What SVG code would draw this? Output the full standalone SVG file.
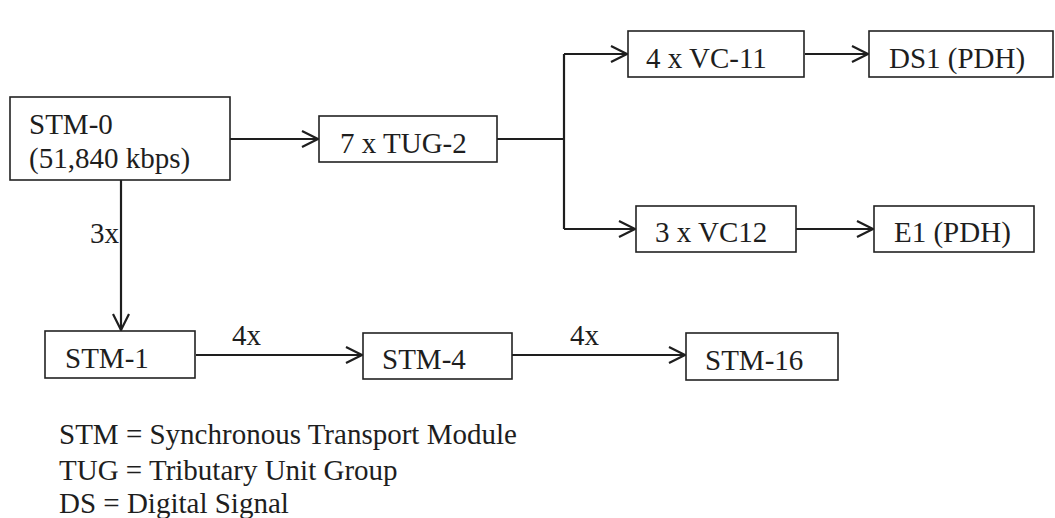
<svg xmlns="http://www.w3.org/2000/svg" width="1055" height="518" viewBox="0 0 1055 518">
<defs>
<style>
.box{fill:#fff;stroke:#222;stroke-width:1.6}
.t{font-family:"Liberation Serif","Times New Roman",serif;font-size:29px;fill:#1e1e1e}
.ln{fill:none;stroke:#1e1e1e;stroke-width:2.2}
</style>
<marker id="ah" markerUnits="userSpaceOnUse" markerWidth="20" markerHeight="20" refX="17" refY="9" orient="auto">
<path d="M1,1 L17,9 L1,17" fill="none" stroke="#1e1e1e" stroke-width="2.2"/>
</marker>
</defs>
<rect width="1055" height="518" fill="#fff"/>
<g id="connectors">
<path class="ln" d="M230,139 H318" marker-end="url(#ah)"/>
<path class="ln" d="M497,139 H564 M564,54 V229"/>
<path class="ln" d="M564,54 H627" marker-end="url(#ah)"/>
<path class="ln" d="M564,229 H635" marker-end="url(#ah)"/>
<path class="ln" d="M805,54 H868" marker-end="url(#ah)"/>
<path class="ln" d="M796,229 H873" marker-end="url(#ah)"/>
<path class="ln" d="M121,180 V330" marker-end="url(#ah)"/>
<path class="ln" d="M196,355 H362" marker-end="url(#ah)"/>
<path class="ln" d="M512,355 H685" marker-end="url(#ah)"/>
<text class="t" x="90" y="243">3x</text>
<text class="t" x="232" y="345">4x</text>
<text class="t" x="570" y="345">4x</text>
</g>
<g id="stm0">
<rect class="box" x="10" y="97" width="220" height="83"/>
<text class="t" x="29" y="134">STM-0</text>
<text class="t" x="29" y="168">(51,840 kbps)</text>
</g>
<g id="tug2">
<rect class="box" x="319" y="116" width="178" height="46"/>
<text class="t" x="340" y="153">7 x TUG-2</text>
</g>
<g id="vc11">
<rect class="box" x="628" y="31" width="176" height="46"/>
<text class="t" x="646" y="68">4 x VC-11</text>
</g>
<g id="ds1">
<rect class="box" x="869" y="31" width="184" height="46"/>
<text class="t" x="889" y="68">DS1 (PDH)</text>
</g>
<g id="vc12">
<rect class="box" x="636" y="206" width="160" height="46"/>
<text class="t" x="655" y="242">3 x VC12</text>
</g>
<g id="e1">
<rect class="box" x="874" y="206" width="160" height="46"/>
<text class="t" x="894" y="242">E1 (PDH)</text>
</g>
<g id="stm1">
<rect class="box" x="45" y="331" width="150" height="47"/>
<text class="t" x="65" y="368">STM-1</text>
</g>
<g id="stm4">
<rect class="box" x="363" y="333" width="149" height="46"/>
<text class="t" x="382" y="369">STM-4</text>
</g>
<g id="stm16">
<rect class="box" x="686" y="333" width="152" height="47"/>
<text class="t" x="705" y="370">STM-16</text>
</g>
<g id="legend">
<text class="t" x="59" y="444">STM = Synchronous Transport Module</text>
<text class="t" x="59" y="480">TUG = Tributary Unit Group</text>
<text class="t" x="59" y="513">DS = Digital Signal</text>
</g>
</svg>
